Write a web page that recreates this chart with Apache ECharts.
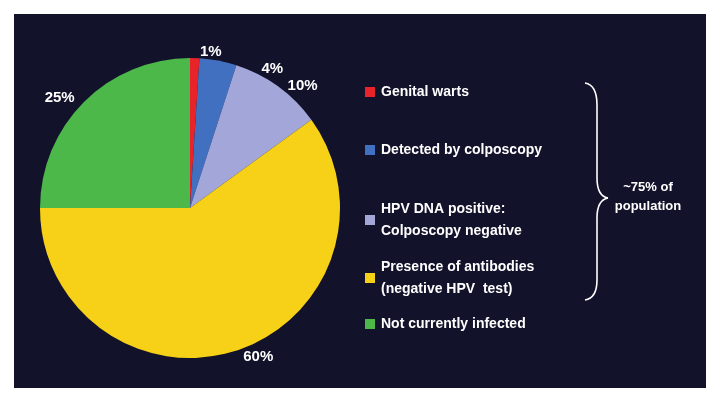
<!DOCTYPE html>
<html style="height: 100%">
<head><meta charset="utf-8"></head>
<body style="height: 100%; margin: 0; background: #fff">
<div id="container" style="height: 100%"></div>
<script src="https://cdn.jsdelivr.net/npm/echarts@6/dist/echarts.min.js"></script>
<script>
// data
var names = ['Genital warts', 'Detected by colposcopy', 'HPV DNA positive:\nColposcopy negative', 'Presence of antibodies\n(negative HPV  test)', 'Not currently infected'];
var values = [1, 4, 10, 60, 25];
var colors = ['#e8232a', '#4270c0', '#a3a6d8', '#f7d117', '#4cb84a'];
var legendY = [92, 150, 220, 278, 324];

var myChart = echarts.init(document.getElementById('container'));

var graphic = [{
  type: 'rect', shape: {x: 14, y: 14, width: 692, height: 374},
  style: {fill: '#13122b'}, z: -10
}];
names.forEach(function (n, i) {
  graphic.push({type: 'rect', shape: {x: 365, y: legendY[i] - 5, width: 10, height: 10}, style: {fill: colors[i]}});
  graphic.push({type: 'text', x: 381, y: legendY[i], style: {
    text: n, fill: '#fff', font: 'bold 14px Arial', verticalAlign: 'middle', lineHeight: 22
  }});
});
// curly brace
var braceStyle = {stroke: '#fff', fill: null, lineWidth: 1.6};
[
  {type: 'bezierCurve', shape: {x1: 585, y1: 83, x2: 597, y2: 105, cpx1: 597, cpy1: 85}},
  {type: 'line', shape: {x1: 597, y1: 105, x2: 597, y2: 178}},
  {type: 'bezierCurve', shape: {x1: 597, y1: 178, x2: 608, y2: 198, cpx1: 597, cpy1: 196}},
  {type: 'bezierCurve', shape: {x1: 608, y1: 198, x2: 597, y2: 218, cpx1: 597, cpy1: 200}},
  {type: 'line', shape: {x1: 597, y1: 218, x2: 597, y2: 280}},
  {type: 'bezierCurve', shape: {x1: 597, y1: 280, x2: 585, y2: 300, cpx1: 597, cpy1: 298}}
].forEach(function (g) { g.style = braceStyle; graphic.push(g); });
graphic.push({type: 'text', x: 648, y: 197, style: {
  text: '~75% of\npopulation', fill: '#fff', font: 'bold 13px Arial', align: 'center', verticalAlign: 'middle', lineHeight: 19
}});

var option = {
  animation: false,
  graphic: graphic,
  series: [{
    type: 'pie',
    center: [190, 208],
    radius: 150,
    startAngle: 90,
    clockwise: true,
    data: names.map(function (n, i) { return {name: n, value: values[i], itemStyle: {color: colors[i]}}; }),
    label: {
      position: 'outside', formatter: '{c}%', color: '#fff',
      fontFamily: 'Arial', fontWeight: 'bold', fontSize: 15
    },
    labelLine: {show: false, length: 6, length2: 0}
  }]
};
myChart.setOption(option);
</script>
</body>
</html>
